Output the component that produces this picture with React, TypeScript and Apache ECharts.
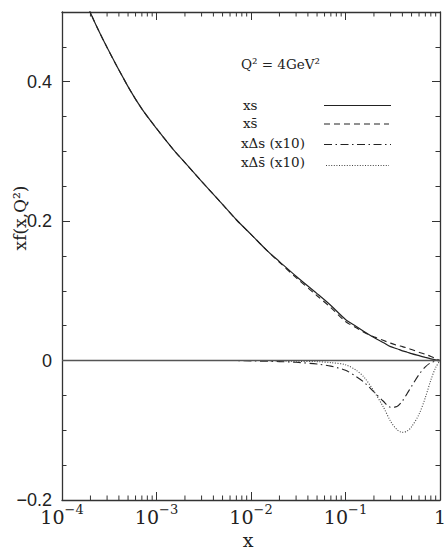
import React, { useEffect, useRef } from 'react';
import * as echarts from 'echarts';

// x values (momentum fraction)
const xValues = [1e-4, 1.5e-4, 2e-4, 3e-4, 5e-4, 7e-4, 1e-3, 1.5e-3, 2e-3, 3e-3, 5e-3, 7e-3,
  0.01, 0.015, 0.02, 0.03, 0.05, 0.07, 0.1, 0.13, 0.16, 0.2, 0.25, 0.3, 0.35, 0.4, 0.45, 0.5,
  0.6, 0.7, 0.8, 0.9, 1];

// x s
const xs = [0.60, 0.545, 0.499, 0.449, 0.393, 0.361, 0.333, 0.303, 0.284, 0.257, 0.224, 0.202,
  0.181, 0.157, 0.142, 0.121, 0.096, 0.079, 0.059, 0.049, 0.041, 0.033, 0.026, 0.020, 0.017, 0.014,
  0.012, 0.010, 0.007, 0.0045, 0.0025, 0.001, 0];

// x s-bar
const xsBar = [0.60, 0.545, 0.499, 0.449, 0.393, 0.361, 0.333, 0.303, 0.284, 0.257, 0.224, 0.202,
  0.181, 0.157, 0.141, 0.119, 0.093, 0.076, 0.056, 0.047, 0.040, 0.034, 0.029, 0.025, 0.022, 0.020,
  0.018, 0.016, 0.012, 0.009, 0.006, 0.003, 0];

// x Delta s (x10)
const xDs = [0, 0, 0, 0, 0, 0, 0, 0, 0, 0, 0, 0,
  -0.0005, -0.001, -0.0015, -0.0025, -0.005, -0.008, -0.014, -0.023, -0.032, -0.045, -0.058, -0.067,
  -0.066, -0.058, -0.047, -0.037, -0.020, -0.009, -0.003, -0.001, 0];

// x Delta s-bar (x10)
const xDsBar = [0, 0, 0, 0, 0, 0, 0, 0, 0, 0, 0, 0,
  0, 0, -0.0005, -0.001, -0.0015, -0.003, -0.006, -0.014, -0.025, -0.044, -0.066, -0.087,
  -0.099, -0.103, -0.101, -0.095, -0.077, -0.053, -0.028, -0.010, 0];

const legendLabels = ['xs', 'xs\u0304', 'x\u0394s (x10)', 'x\u0394s\u0304 (x10)'];
const yLabelValues = [-0.2, 0, 0.2, 0.4];
const xTitle = 'x';
const yTitle = 'xf(x,Q\u00b2)';
const scaleNote = 'Q\u00b2 = 4GeV\u00b2';

const Y_MIN = -0.2;
const Y_MAX = 0.5;
const X_MIN = 1e-4;
const X_MAX = 1;

// minor tick positions for log axis (2..9 per decade)
const minorTicks: number[] = [];
for (let d = -4; d < 0; d++) {
  for (let k = 2; k <= 9; k++) minorTicks.push(k * Math.pow(10, d));
}

const INK = '#222';
const FRAME = '#333';
const SERIF = '"DejaVu Serif", serif';
const SANS = '"Liberation Sans", Arial, sans-serif';

const dashed = [6, 4];
const dashDot = [8, 3.5, 1.5, 3.5];
const dotted = [1, 1.6];

function pairs(ys: number[]) {
  return xValues.map((x, i) => [x, ys[i]]);
}

export default function App() {
  const ref = useRef<HTMLDivElement>(null);
  useEffect(() => {
    if (!ref.current) return;
    const chart = echarts.init(ref.current, undefined, { renderer: 'svg' });

    const xAxisBase = {
      type: 'log' as const,
      logBase: 10,
      min: X_MIN,
      max: X_MAX,
      splitLine: { show: false },
      axisLine: { show: true, onZero: false, lineStyle: { color: FRAME, width: 1.3 } },
      axisTick: { show: true, inside: true, length: 8, lineStyle: { color: FRAME, width: 1 } },
    };
    const yAxisBase = {
      type: 'value' as const,
      min: Y_MIN,
      max: Y_MAX,
      splitLine: { show: false },
    };

    const isLabel = (v: number) => yLabelValues.some((l) => Math.abs(l - v) < 1e-6);

    const option: any = {
      animation: false,
      grid: {
        left: 62, top: 12, width: 378, height: 488,
        containLabel: false,
        outerBoundsMode: 'none',
      },
      xAxis: [
        {
          ...xAxisBase,
          position: 'bottom',
          axisLabel: {
            margin: 3,
            color: INK,
            formatter: (v: number) => {
              const e = Math.round(Math.log10(v));
              if (e === 0) return '{b|1}';
              return '{b|10}{s|\u2212' + Math.abs(e) + '}';
            },
            rich: {
              b: { fontFamily: SERIF, fontSize: 19, lineHeight: 23, verticalAlign: 'bottom', color: INK },
              s: { fontFamily: SERIF, fontSize: 13, lineHeight: 14, verticalAlign: 'top', color: INK },
            },
          },
        },
        {
          ...xAxisBase,
          position: 'top',
          axisLabel: { show: false },
        },
      ],
      yAxis: [
        {
          ...yAxisBase,
          position: 'left',
          interval: 0.05,
          axisLine: { show: true, lineStyle: { color: FRAME, width: 1.3 } },
          axisTick: { show: true, inside: true, length: 4.5, lineStyle: { color: FRAME, width: 1 } },
          axisLabel: {
            margin: 10,
            fontFamily: SANS,
            fontSize: 18,
            color: INK,
            showMaxLabel: false,
            formatter: (v: number) => {
              if (!isLabel(v)) return '';
              const r = Math.round(v * 10) / 10;
              if (r === 0) return '0';
              return (r < 0 ? '\u2212' : '') + Math.abs(r).toFixed(1);
            },
          },
        },
        {
          ...yAxisBase,
          position: 'left',
          interval: 0.2,
          axisLine: { show: false },
          axisTick: { show: true, inside: true, length: 8, lineStyle: { color: FRAME, width: 1 } },
          axisLabel: { show: false },
        },
        {
          ...yAxisBase,
          position: 'right',
          interval: 0.05,
          axisLine: { show: true, lineStyle: { color: FRAME, width: 1.3 } },
          axisTick: { show: true, inside: true, length: 4.5, lineStyle: { color: FRAME, width: 1 } },
          axisLabel: { show: false },
        },
        {
          ...yAxisBase,
          position: 'right',
          interval: 0.2,
          axisLine: { show: false },
          axisTick: { show: true, inside: true, length: 8, lineStyle: { color: FRAME, width: 1 } },
          axisLabel: { show: false },
        },
      ],
      series: [
        {
          type: 'custom',
          silent: true,
          xAxisIndex: 0,
          yAxisIndex: 0,
          data: minorTicks.map((v) => [v, 0]),
          renderItem: (params: any, api: any) => {
            const x = api.value(0);
            const pb = api.coord([x, Y_MIN]);
            const pt = api.coord([x, Y_MAX]);
            return {
              type: 'group',
              children: [
                { type: 'line', shape: { x1: pb[0], y1: pb[1], x2: pb[0], y2: pb[1] - 4.5 }, style: { stroke: FRAME, lineWidth: 1 } },
                { type: 'line', shape: { x1: pt[0], y1: pt[1], x2: pt[0], y2: pt[1] + 4.5 }, style: { stroke: FRAME, lineWidth: 1 } },
              ],
            };
          },
        },
        {
          name: legendLabels[0],
          type: 'line',
          data: pairs(xs),
          smooth: 0.3,
          showSymbol: false,
          clip: true,
          lineStyle: { color: INK, width: 1.2, type: 'solid' },
          markLine: {
            silent: true,
            symbol: 'none',
            label: { show: false },
            lineStyle: { color: '#555', width: 1.3, type: 'solid' },
            data: [{ yAxis: 0 }],
          },
        },
        {
          name: legendLabels[1],
          type: 'line',
          data: pairs(xsBar),
          smooth: 0.3,
          showSymbol: false,
          clip: true,
          lineStyle: { color: INK, width: 1.1, type: dashed },
        },
        {
          name: legendLabels[2],
          type: 'line',
          data: pairs(xDs),
          smooth: 0.3,
          showSymbol: false,
          clip: true,
          lineStyle: { color: INK, width: 1.1, type: dashDot },
        },
        {
          name: legendLabels[3],
          type: 'line',
          data: pairs(xDsBar),
          smooth: 0.3,
          showSymbol: false,
          clip: true,
          lineStyle: { color: '#444', width: 1.1, type: dotted },
        },
      ],
      graphic: [
        { type: 'text', x: 248, y: 540, style: { text: xTitle, fontFamily: SERIF, fontSize: 19, fill: INK, align: 'center', verticalAlign: 'middle' } },
        { type: 'text', x: 20, y: 218, rotation: Math.PI / 2, style: { text: yTitle, fontFamily: SERIF, fontSize: 17, fill: INK, align: 'center', verticalAlign: 'middle' } },
        { type: 'text', left: 241, top: 57, style: { text: scaleNote, fontFamily: SERIF, fontSize: 13.5, fill: INK } },
        { type: 'text', left: 243, top: 98, style: { text: legendLabels[0], fontFamily: SERIF, fontSize: 13.5, fill: INK } },
        { type: 'text', left: 243, top: 116, style: { text: legendLabels[1], fontFamily: SERIF, fontSize: 13.5, fill: INK } },
        { type: 'text', left: 241, top: 136, style: { text: legendLabels[2], fontFamily: SERIF, fontSize: 13.5, fill: INK } },
        { type: 'text', left: 241, top: 155, style: { text: legendLabels[3], fontFamily: SERIF, fontSize: 13.5, fill: INK } },
        { type: 'line', shape: { x1: 324, y1: 105.5, x2: 391, y2: 105.5 }, style: { stroke: INK, lineWidth: 1.2 } },
        { type: 'line', shape: { x1: 324, y1: 124, x2: 389, y2: 124 }, style: { stroke: INK, lineWidth: 1.1, lineDash: dashed } },
        { type: 'line', shape: { x1: 324, y1: 144.5, x2: 391, y2: 144.5 }, style: { stroke: INK, lineWidth: 1.1, lineDash: dashDot } },
        { type: 'line', shape: { x1: 326, y1: 165.5, x2: 389, y2: 165.5 }, style: { stroke: '#444', lineWidth: 1.1, lineDash: dotted } },
      ],
    };

    chart.setOption(option);
    return () => chart.dispose();
  }, []);

  return (
    <div
      ref={ref}
      style={{ position: 'fixed', left: 0, top: 0, width: 446, height: 553, background: '#fff' }}
    />
  );
}
